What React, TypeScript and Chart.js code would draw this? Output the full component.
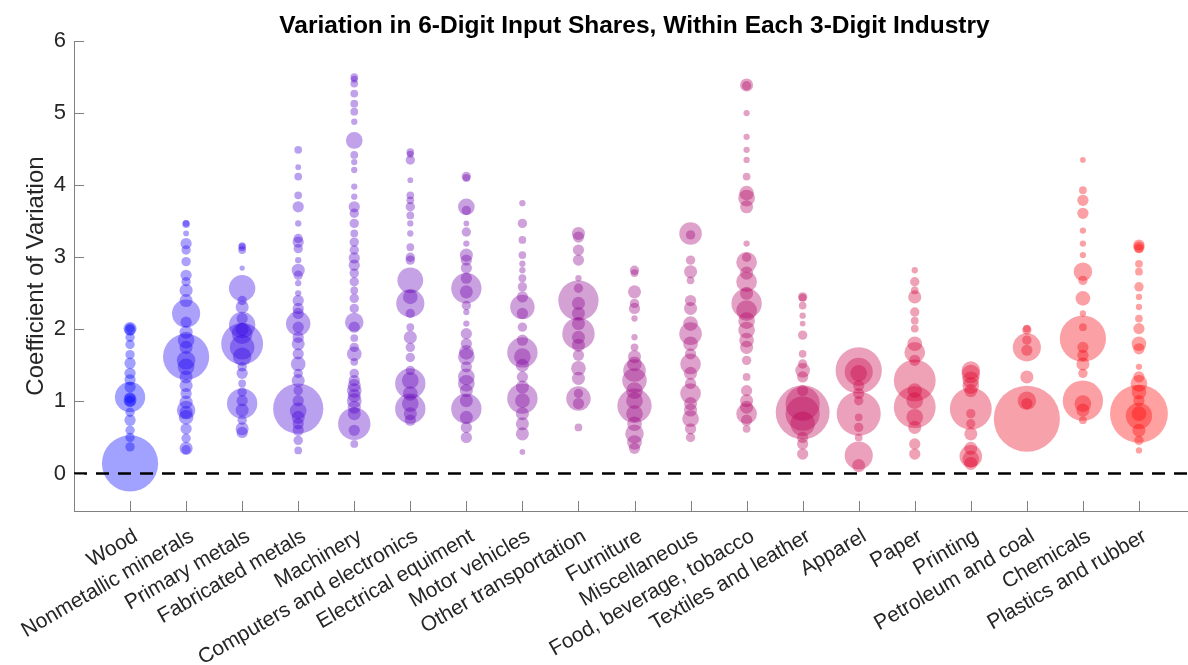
import React, { useEffect, useRef } from "react";
import { Chart, registerables } from "chart.js";
Chart.register(...registerables);

const titleText = "Variation in 6-Digit Input Shares, Within Each 3-Digit Industry";
const yAxisTitle = "Coefficient of Variation";
const categories = [
  "Wood", "Nonmetallic minerals", "Primary metals", "Fabricated metals", "Machinery",
  "Computers and electronics", "Electrical equiment", "Motor vehicles", "Other transportation",
  "Furniture", "Miscellaneous", "Food, beverage, tobacco", "Textiles and leather", "Apparel",
  "Paper", "Printing", "Petroleum and coal", "Chemicals", "Plastics and rubber",
];
const yTicks = [0, 1, 2, 3, 4, 5, 6];

// each entry: [coefficient of variation, input share (%)]
const wood = [[2.01,2.3],[1.99,1.6],[2.02,1.0],[1.89,1.0],[1.79,1.0],[1.65,1.0],[1.53,1.6],[1.39,1.6],[1.30,1.6],[1.20,1.6],[1.06,14],[1.02,2.3],[1.0,1.6],[1.05,1.6],[0.85,1.0],[0.74,1.6],[0.60,1.0],[0.50,1.0],[0.37,1.0],[0.14,49]];
const nonmetallic = [[3.46,0.56],[3.47,0.3],[3.33,0.14],[3.19,1.6],[3.10,1.0],[2.94,1.0],[2.75,1.6],[2.66,1.0],[2.54,2.3],[2.40,2.3],[2.22,12],[2.10,1.6],[1.96,2.3],[1.85,4],[1.75,2.3],[1.62,33],[1.57,5],[1.48,4],[1.34,2.3],[1.22,2.3],[1.11,1.6],[0.99,2.3],[0.88,5],[0.85,2.3],[0.78,3],[0.62,1.6],[0.49,1.0],[0.35,2.3],[0.33,1.0]];
const primaryMetals = [[3.14,0.56],[3.16,0.4],[3.10,0.56],[2.85,0.06],[2.57,10.5],[2.40,1.0],[2.31,2.3],[2.15,1.6],[2.06,10.5],[1.94,6.3],[2.0,2.3],[1.80,27],[1.75,9],[1.62,5],[1.48,1.0],[1.39,1.6],[1.25,0.56],[1.13,1.0],[1.01,1.6],[0.97,14],[0.88,2.3],[0.74,1.0],[0.62,2.3],[0.57,1.6]];
const fabricated = [[4.49,0.56],[4.25,0.14],[4.12,0.56],[3.86,0.56],[3.70,1.6],[3.47,0.25],[3.26,1.0],[3.21,1.6],[3.12,1.0],[2.96,0.25],[2.82,2.3],[2.75,1.0],[2.64,0.25],[2.50,0.25],[2.40,1.6],[2.29,1.6],[2.22,1.6],[2.08,9],[2.03,1.6],[1.89,1.6],[1.80,2.3],[1.66,1.6],[1.52,3],[1.39,1.0],[1.29,2.3],[1.15,1.0],[1.01,1.6],[0.90,39],[0.87,4],[0.78,2.3],[0.69,1.6],[0.60,1.6],[0.46,1.0],[0.32,0.56]];
const machinery = [[5.50,0.56],[5.47,0.4],[5.41,0.56],[5.27,0.56],[5.13,0.56],[5.02,0.56],[4.88,0.25],[4.62,4],[4.42,0.56],[4.32,0.25],[4.21,0.25],[3.98,0.25],[3.84,0.25],[3.70,1.6],[3.61,1.0],[3.47,1.0],[3.33,0.56],[3.21,1.0],[3.10,1.0],[2.99,1.6],[2.89,1.6],[2.78,1.0],[2.66,1.0],[2.54,0.56],[2.43,1.0],[2.29,1.0],[2.10,5],[2.03,1.6],[1.88,0.56],[1.75,1.0],[1.66,3],[1.55,0.56],[1.39,1.0],[1.29,1.6],[1.22,2.3],[1.15,3],[1.08,2.3],[1.01,3],[0.92,2.3],[0.83,2.3],[0.69,16],[0.60,1.6],[0.41,0.56]];
const computers = [[4.46,0.56],[4.43,0.4],[4.35,1.0],[4.07,0.14],[3.86,0.56],[3.79,0.56],[3.70,1.0],[3.58,0.56],[3.47,0.25],[3.33,0.25],[3.14,0.56],[3.00,1.0],[2.96,1.0],[2.68,10],[2.45,3],[2.36,12],[2.22,1.0],[2.03,0.56],[1.89,2.3],[1.75,1.0],[1.61,1.0],[1.43,1.0],[1.29,4],[1.25,14],[1.11,3],[0.97,4],[0.90,14],[0.83,2.3],[0.74,1.6]];
const electrical = [[4.12,1.0],[4.10,0.56],[3.70,4],[3.65,1.0],[3.47,0.14],[3.35,1.0],[3.19,0.25],[3.03,2.3],[2.96,1.6],[2.85,1.6],[2.71,1.6],[2.57,14],[2.52,2.3],[2.33,1.0],[2.24,0.25],[2.08,0.25],[1.94,1.6],[1.80,1.6],[1.68,3],[1.62,4],[1.48,1.6],[1.34,4],[1.25,4],[1.15,2.3],[1.01,2.3],[0.90,14],[0.78,2.3],[0.64,1.6],[0.50,1.6]];
const motorVehicles = [[3.75,0.25],[3.47,1.0],[3.24,0.56],[3.03,0.56],[2.91,0.25],[2.82,0.25],[2.71,0.56],[2.59,1.0],[2.45,1.6],[2.31,9],[2.22,1.6],[2.03,1.0],[1.85,1.6],[1.68,14],[1.62,4],[1.50,2.3],[1.34,1.6],[1.20,2.3],[1.04,14],[1.01,3],[0.83,2.3],[0.69,2.3],[0.55,2.3],[0.30,0.14]];
const otherTransport = [[3.33,2.3],[3.28,1.6],[3.10,1.6],[2.96,1.6],[2.71,0.25],[2.57,1.0],[2.40,25],[2.36,2.3],[2.22,2.3],[2.08,2.3],[1.94,16],[1.89,2.3],[1.78,2.3],[1.64,1.6],[1.46,3],[1.32,2.3],[1.11,1.0],[1.04,9],[0.97,1.6],[0.64,0.56]];
const furniture = [[2.82,1.0],[2.78,0.56],[2.52,2.3],[2.36,1.0],[2.29,1.6],[2.15,0.25],[1.89,0.25],[1.75,0.56],[1.62,2.3],[1.52,3],[1.43,7.6],[1.29,9],[1.15,4],[1.01,4],[0.94,18],[0.83,4],[0.69,3],[0.55,5],[0.43,3],[0.35,1.6]];
const miscellaneous = [[3.33,7.6],[3.31,1.0],[2.96,1.0],[2.80,2.3],[2.68,0.56],[2.40,1.6],[2.29,2.3],[2.08,3],[1.94,7.6],[1.80,3],[1.66,1.6],[1.52,6.3],[1.39,2.3],[1.25,1.6],[1.11,6.3],[0.97,2.3],[0.88,2.3],[0.76,4],[0.62,1.6],[0.50,1.0]];
const food = [[5.39,2.3],[5.38,1.0],[5.00,0.25],[4.67,0.25],[4.49,0.25],[4.35,0.25],[4.12,0.56],[3.89,3],[3.82,4],[3.70,2.3],[3.19,0.25],[3.00,1.0],[2.93,6.3],[2.78,2.3],[2.66,6.3],[2.50,2.3],[2.36,14],[2.26,6.3],[2.12,4],[1.99,4],[1.85,3],[1.75,2.3],[1.57,1.0],[1.34,0.56],[1.15,1.6],[1.01,2.3],[0.92,2.3],[0.83,6.3],[0.74,1.6],[0.62,0.56]];
const textiles = [[2.45,1.0],[2.44,0.56],[2.33,0.56],[2.19,0.25],[2.08,0.14],[1.92,1.0],[1.66,0.56],[1.52,1.0],[1.43,3],[1.34,1.6],[1.15,1.6],[0.97,18],[0.85,45],[0.83,18],[0.69,9],[0.50,1.6],[0.41,1.6],[0.27,1.6]];
const apparel = [[1.43,33],[1.41,12],[1.39,4],[1.22,1.6],[1.11,1.6],[1.01,1.0],[0.83,30],[0.78,0.56],[0.64,1.0],[0.50,0.56],[0.25,12],[0.11,2.3]];
const paper = [[2.82,0.25],[2.66,1.0],[2.54,0.56],[2.45,2.3],[2.24,1.0],[2.12,0.56],[2.01,0.56],[1.80,3],[1.68,6.3],[1.57,1.6],[1.29,27],[1.15,3],[1.01,4],[0.92,27],[0.78,4],[0.64,2.3],[0.41,1.6],[0.27,1.6]];
const printing = [[1.43,5],[1.38,5],[1.30,4],[1.22,4],[1.15,2.3],[0.90,27],[0.83,1.0],[0.69,1.0],[0.55,2.3],[0.35,2.3],[0.24,7.6],[0.20,4],[0.14,2.3]];
const petroleum = [[1.99,1.0],[2.01,0.56],[1.85,1.0],[1.75,12],[1.71,1.6],[1.34,2.3],[1.01,5],[0.97,1.6],[0.76,68]];
const chemicals = [[4.35,0.14],[3.93,0.56],[3.79,1.6],[3.61,1.6],[3.37,0.25],[3.19,0.25],[3.03,0.25],[2.80,5],[2.68,1.0],[2.43,3],[2.22,0.25],[2.03,0.56],[1.87,33],[1.75,1.6],[1.64,1.6],[1.52,2.3],[1.39,1.0],[1.01,25],[0.97,4],[0.88,2.3],[0.74,0.56]];
const plastics = [[3.17,1.6],[3.14,1.6],[3.12,1.0],[2.91,0.56],[2.80,0.56],[2.59,1.0],[2.45,0.25],[2.31,0.25],[2.15,0.56],[2.01,1.6],[1.80,3],[1.73,1.6],[1.48,0.25],[1.34,1.6],[1.25,4],[1.13,3],[1.01,1.6],[0.83,52],[0.80,10.5],[0.83,3],[0.60,2.3],[0.46,1.0],[0.32,0.25]];

const industryPoints = [
  wood, nonmetallic, primaryMetals, fabricated, machinery, computers, electrical,
  motorVehicles, otherTransport, furniture, miscellaneous, food, textiles, apparel,
  paper, printing, petroleum, chemicals, plastics,
];

const X_MIN = 0;
const X_MAX = 19.875;
const Y_MIN = -0.52;
const Y_MAX = 6;
const FONT = '"Liberation Sans", Arial, Helvetica, sans-serif';
const AXIS_COLOR = "#808080";
const TEXT_COLOR = "#262626";

const decorPlugin = {
  id: "decor",
  afterDraw(chart: any) {
    const { ctx, chartArea, scales } = chart;
    const xs = scales.x;
    const ys = scales.y;
    ctx.save();
    ctx.strokeStyle = AXIS_COLOR;
    ctx.lineWidth = 1;
    ctx.beginPath();
    categories.forEach((_, i) => {
      const px = Math.round(xs.getPixelForValue(i + 1)) + 0.5;
      ctx.moveTo(px, chartArea.bottom);
      ctx.lineTo(px, chartArea.bottom - 10);
    });
    yTicks.forEach((v) => {
      const py = Math.round(ys.getPixelForValue(v)) + 0.5;
      ctx.moveTo(chartArea.left, py);
      ctx.lineTo(chartArea.left + 10, py);
    });
    ctx.stroke();
    ctx.fillStyle = "#000";
    ctx.font = `bold 24.5px ${FONT}`;
    ctx.textAlign = "center";
    ctx.textBaseline = "alphabetic";
    ctx.fillText(titleText, xs.getPixelForValue(10), 33);
    ctx.restore();
  },
};

export default function App() {
  const ref = useRef<HTMLCanvasElement>(null);
  useEffect(() => {
    document.body.style.margin = "0";
    const n = categories.length;
    const bubbleSets = industryPoints.map((pts, i) => {
      const t = i / (n - 1);
      const r = Math.round(255 * Math.pow(t, 0.75));
      const b = Math.round(255 * (1 - t));
      return {
        type: "bubble" as const,
        label: categories[i],
        data: pts.map(([cv, share]) => ({ x: i + 1, y: cv, r: Math.sqrt(16 * share + 6) })),
        backgroundColor: `rgba(${r},0,${b},0.37)`,
        borderWidth: 0,
        hoverBorderWidth: 0,
        order: 1,
      };
    });
    const zeroLine = {
      type: "line" as const,
      label: "zero",
      data: [{ x: X_MIN, y: 0 }, { x: X_MAX, y: 0 }],
      borderColor: "#000",
      borderWidth: 2.6,
      borderDash: [13, 9],
      pointRadius: 0,
      pointHoverRadius: 0,
      fill: false,
      order: 0,
    };
    const chart = new Chart(ref.current as HTMLCanvasElement, {
      type: "bubble",
      data: { datasets: [zeroLine as any, ...bubbleSets] },
      options: {
        responsive: false,
        animation: false,
        devicePixelRatio: 1,
        events: [],
        layout: { autoPadding: false, padding: { top: 41, left: 0, right: 0, bottom: 0 } },
        plugins: { legend: { display: false }, tooltip: { enabled: false }, title: { display: false } },
        scales: {
          x: {
            type: "linear",
            min: X_MIN,
            max: X_MAX,
            grid: { display: false },
            border: { display: true, color: AXIS_COLOR, width: 1 },
            afterBuildTicks: (s: any) => { s.ticks = categories.map((_, i) => ({ value: i + 1 })); },
            afterFit: (s: any) => { s.height = 154; s.paddingLeft = 0; s.paddingRight = 0; },
            ticks: {
              autoSkip: false,
              minRotation: 30,
              maxRotation: 30,
              padding: 5,
              labelOffset: 6,
              color: TEXT_COLOR,
              font: { family: FONT, size: 21 },
              callback: (v: any) => categories[Math.round(Number(v)) - 1] ?? "",
            },
          },
          y: {
            type: "linear",
            min: Y_MIN,
            max: Y_MAX,
            grid: { display: false },
            border: { display: true, color: AXIS_COLOR, width: 1 },
            afterBuildTicks: (s: any) => { s.ticks = yTicks.map((v) => ({ value: v })); },
            afterFit: (s: any) => { s.width = 74; s.paddingTop = 0; s.paddingBottom = 0; },
            ticks: {
              padding: 0,
              color: TEXT_COLOR,
              font: { family: FONT, size: 22 },
              callback: (v: any) => String(v),
            },
            title: {
              display: true,
              text: yAxisTitle,
              color: TEXT_COLOR,
              font: { family: FONT, size: 24 },
              padding: { top: 22, bottom: 0 },
            },
          },
        },
      } as any,
      plugins: [decorPlugin],
    });
    return () => chart.destroy();
  }, []);
  return (
    <div style={{ position: "fixed", left: 0, top: 0, width: 1188, height: 665, background: "#fff" }}>
      <canvas ref={ref} width={1188} height={665} style={{ display: "block" }} />
    </div>
  );
}
